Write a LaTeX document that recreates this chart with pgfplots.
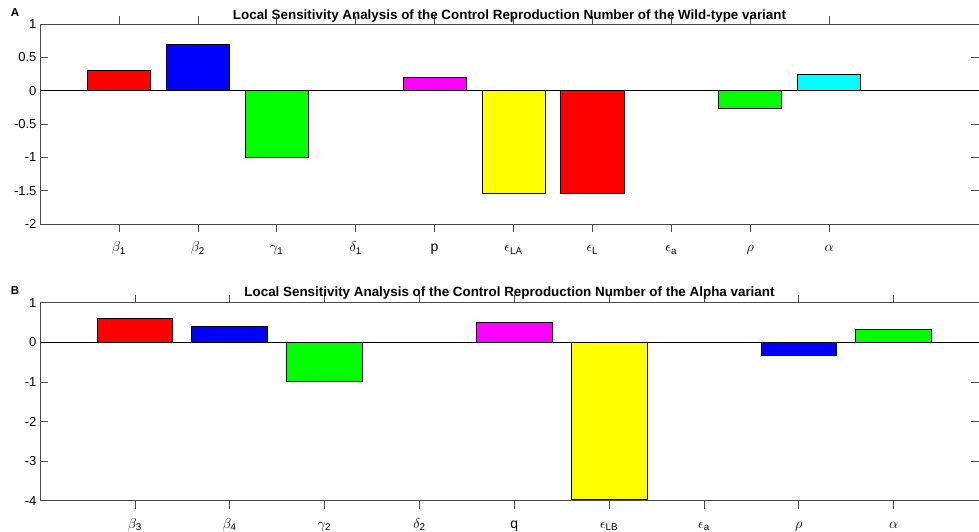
\documentclass[border=0pt]{standalone}
\usepackage{fontspec}
\setmainfont{Liberation Sans}
\usepackage{amsmath}
\usepackage{pgfplots}
\pgfplotsset{compat=1.18}

\definecolor{bR}{rgb}{1,0,0}
\definecolor{bB}{rgb}{0,0,1}
\definecolor{bG}{rgb}{0,1,0}
\definecolor{bC}{rgb}{0,1,1}
\definecolor{bM}{rgb}{1,0,1}
\definecolor{bY}{rgb}{1,1,0}

\pgfplotsset{
  sens/.style={
    scale only axis,
    width=939pt,
    xmin=0,
    axis line style={black!70, line width=0.6pt},
    tick style={black!70, line width=0.6pt},
    major tick length=8pt,
    tick pos=both,
    tick align=inside,
    ybar,
    bar width=0.8,
    yticklabel style={font=\fontsize{13}{15}\selectfont},
    xticklabel style={font=\fontsize{14}{16}\selectfont, anchor=base, yshift=-20pt},
    extra y ticks={0},
    extra y tick labels={},
    extra y tick style={grid=major, major grid style={black, line width=0.7pt}, major tick length=0pt},
    title style={font=\bfseries\fontsize{13.4}{15}\selectfont, anchor=base, at={(0.5,1)}},
  },
  sbar/.style={fill=#1, draw=black, line width=0.6pt, bar shift=0pt},
}

\begin{document}
\begin{tikzpicture}[x=1pt, y=1pt]
\useasboundingbox (0,0) rectangle (979,532);

% Panel A: wild-type variant
\begin{axis}[sens,
  at={(40pt,308pt)}, anchor=south west,
  height=200pt,
  xmax=11.9,
  ymin=-2, ymax=1,
  ytick={-2,-1.5,-1,-0.5,0,0.5,1},
  yticklabels={-2,-1.5,-1,-0.5,0,0.5,1},
  xtick={1,...,10},
  xticklabels={$\beta_{\text{1}}$, $\beta_{\text{2}}$, $\gamma_{\text{1}}$, $\delta_{\text{1}}$, p, $\epsilon_{\text{LA}}$, $\epsilon_{\text{L}}$, $\epsilon_{\text{a}}$, $\rho$, $\alpha$},
  title={Local Sensitivity Analysis of the Control Reproduction Number of the Wild-type variant},
  title style={yshift=-1.5pt},
]
\addplot[sbar=bR] coordinates {(1,0.30)};
\addplot[sbar=bB] coordinates {(2,0.70)};
\addplot[sbar=bG] coordinates {(3,-1.00)};
\addplot[sbar=bC] coordinates {(4,0)};
\addplot[sbar=bM] coordinates {(5,0.20)};
\addplot[sbar=bY] coordinates {(6,-1.54)};
\addplot[sbar=bR] coordinates {(7,-1.54)};
\addplot[sbar=bB] coordinates {(8,0)};
\addplot[sbar=bG] coordinates {(9,-0.26)};
\addplot[sbar=bC] coordinates {(10,0.245)};
\end{axis}
\node[font=\bfseries\fontsize{11.5}{13}\selectfont, anchor=base] at (15,515) {A};

% Panel B: alpha variant
\begin{axis}[sens,
  at={(40pt,31.3pt)}, anchor=south west,
  height=198pt,
  xmax=9.9,
  ymin=-4, ymax=1,
  ytick={-4,-3,-2,-1,0,1},
  yticklabels={-4,-3,-2,-1,0,1},
  xtick={1,...,9},
  xticklabels={$\beta_{\text{3}}$, $\beta_{\text{4}}$, $\gamma_{\text{2}}$, $\delta_{\text{2}}$, q, $\epsilon_{\text{LB}}$, $\epsilon_{\text{a}}$, $\rho$, $\alpha$},
  title={Local Sensitivity Analysis of the Control Reproduction Number of the Alpha variant},
  title style={yshift=0pt},
]
\addplot[sbar=bR] coordinates {(1,0.61)};
\addplot[sbar=bB] coordinates {(2,0.40)};
\addplot[sbar=bG] coordinates {(3,-0.99)};
\addplot[sbar=bC] coordinates {(4,0)};
\addplot[sbar=bM] coordinates {(5,0.50)};
\addplot[sbar=bY] coordinates {(6,-3.96)};
\addplot[sbar=bR] coordinates {(7,0)};
\addplot[sbar=bB] coordinates {(8,-0.34)};
\addplot[sbar=bG] coordinates {(9,0.34)};
\end{axis}
\node[font=\bfseries\fontsize{11.5}{13}\selectfont, anchor=base] at (15,237) {B};
\end{tikzpicture}
\end{document}
